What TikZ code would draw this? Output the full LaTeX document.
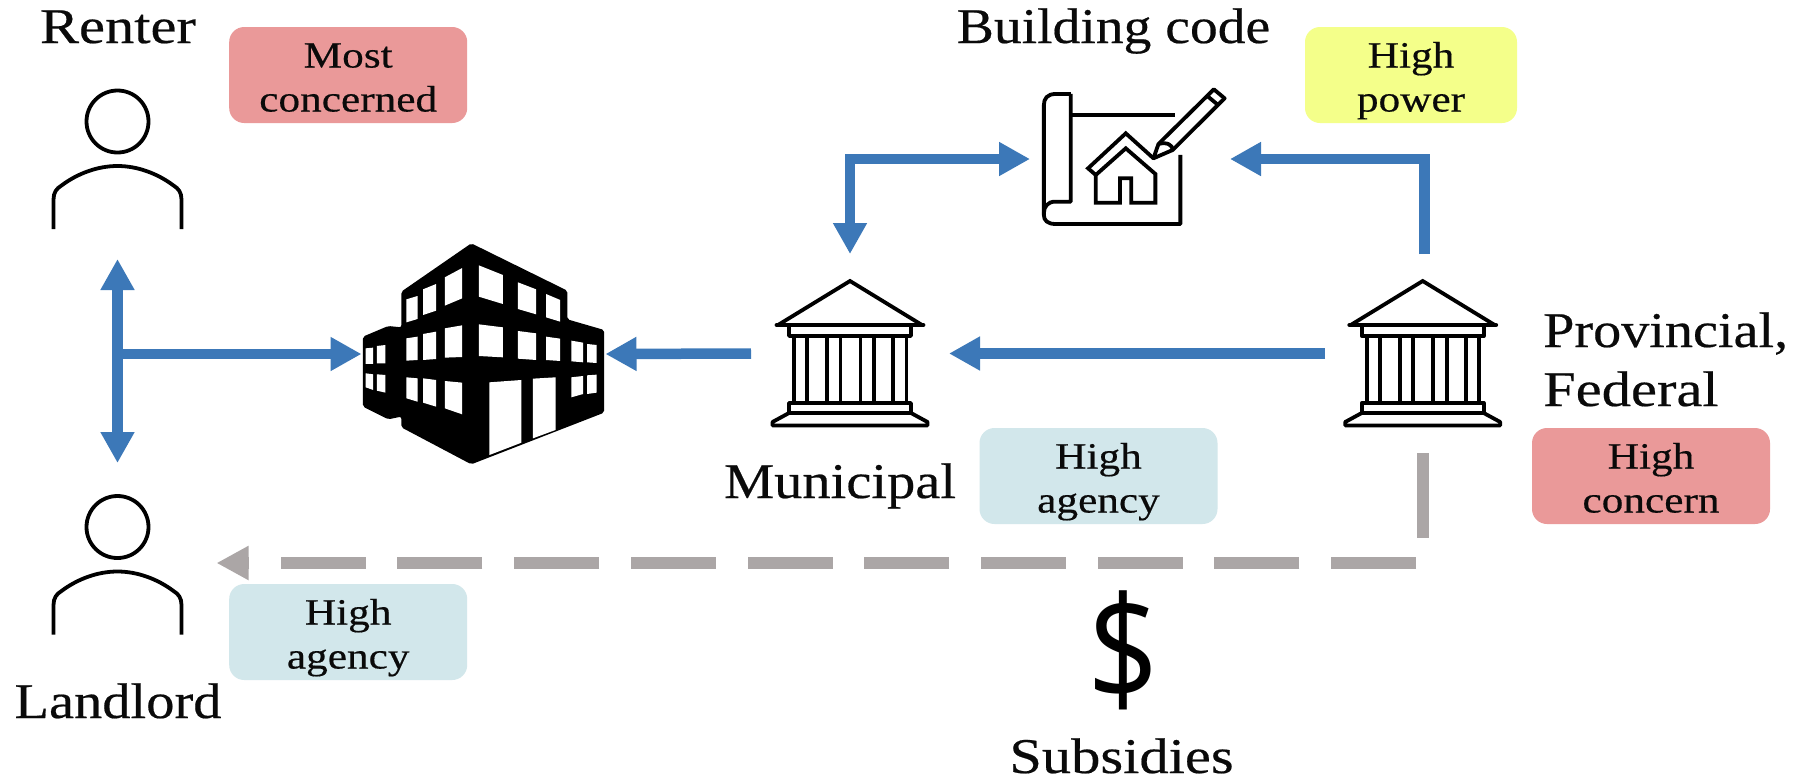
\documentclass[tikz,border=0pt]{standalone}
\usepackage{fontspec}
\setmainfont[FakeStretch=1.17,FakeBold=0.4]{Liberation Serif}
\newfontfamily\dollarfont{Open Sans}
\usetikzlibrary{arrows.meta,calc}
\definecolor{flowblue}{HTML}{3C78B8}
\definecolor{flowgray}{HTML}{ABA6A6}
\definecolor{tagred}{HTML}{EA9999}
\definecolor{tagyellow}{HTML}{F4FF8A}
\definecolor{tagblue}{HTML}{D2E7EB}
\definecolor{inkblack}{HTML}{0A0A0A}
\newcommand{\twolines}[2]{\rule{0pt}{29pt}#1\\\smash{#2}}
\tikzset{
  x=1pt,y=-1pt,
  tagbox/.style={rounded corners=15pt,minimum width=238pt,minimum height=96pt,inner sep=0pt,align=center,text=inkblack,font=\fontsize{37}{44}\selectfont},
  biglabel/.style={anchor=base west,inner sep=0pt,text=inkblack,font=\fontsize{50}{59}\selectfont},
  biglabelc/.style={anchor=base,inner sep=0pt,text=inkblack,font=\fontsize{50}{59}\selectfont},
  slot/.style={inner sep=0pt,outer sep=0pt,minimum width=#1},
  flow/.style={draw=flowblue,line width=10.5pt,line join=miter},
  flowtip/.tip={Triangle[length=31pt,width=32pt]},
  subsidy/.style={draw=flowgray,line width=12pt,dash pattern=on 85pt off 31.7pt},
  icon/.style={draw=black,line width=3.8pt,line join=round},
  person/.pic={
    \draw[icon] (0,0) circle (31);
    \draw[icon] (-64,107.5)--(-64,78) .. controls (-64,71) and (-61,67) .. (-56,64) .. controls (-40,52) and (-20,44.5) .. (0,44.5) .. controls (20,44.5) and (40,52) .. (56,64) .. controls (61,67) and (64,71) .. (64,78)--(64,107.5);
  },
  temple/.pic={
    \draw[icon,line join=miter] (-72,46)--(0,2)--(72,46);
    \draw[icon,line width=4.8pt,line cap=round] (-73,46)--(73,46);
    \draw[icon] (-61,46)--(-61,57)--(61,57)--(61,46);
    \foreach \c in {-56,-43,-23,-9.5,10.5,24,43,56.5}{\draw[icon] (\c,57)--(\c,124);}
    \draw[icon] (-61,124)--(61,124)--(61,134)--(-61,134)--cycle;
    \draw[icon] (-61,134)--(-77.5,143)--(-77.5,146.5)--(77.5,146.5)--(77.5,143)--(61,134);
  }
}
\begin{document}
\begin{tikzpicture}
\useasboundingbox (0,0) rectangle (1803,780);
\fill[white] (0,0) rectangle (1803,780);

% invisible slots the connectors run between
\node[slot=198pt,minimum height=200pt] (renter) at (117.5,159) {};
\node[slot=198pt,minimum height=200pt] (landlord) at (117.5,563) {};
\node[slot=244pt,minimum height=222pt] (building) at (483.5,354) {};
\node[slot=198pt,minimum height=199pt] (municipal) at (850,353.5) {};
\node[slot=195.4pt,minimum height=199pt] (provincial) at (1422.7,353.5) {};
\node[slot=200pt,minimum height=100pt] (blueprint) at (1130,159) {};
\coordinate (junction) at (117.5,354);

% people
\pic at (117.5,121.5) {person};
\pic at (117.5,527) {person};

% building
\begin{scope}[shift={(340,220)},x=.3954pt,y=-.3333pt]
\fill[black,rounded corners=2pt] (332,70)--(575,212)--(575,298)--(668,330)--(668,578)--(332,733)--(155,622)--(155,590)--(122,598)--(58,560)--(58,350)--(122,318)--(155,322)--(155,215)--cycle;
\foreach \w in {
 {(168,238)--(196,228)--(196,297)--(168,307)},
 {(210,208)--(243,192)--(243,272)--(210,285)},
 {(265,172)--(309,144)--(309,235)--(265,257)},
 {(351,136)--(412,165)--(412,252)--(351,230)},
 {(450,187)--(496,208)--(496,283)--(450,267)},
 {(521,222)--(557,240)--(557,305)--(521,292)},
 {(168,355)--(196,350)--(196,420)--(168,422)},
 {(210,342)--(243,335)--(243,417)--(210,420)},
 {(265,325)--(309,316)--(309,411)--(265,413)},
 {(351,313)--(412,322)--(412,412)--(351,408)},
 {(450,333)--(496,340)--(496,420)--(450,416)},
 {(521,350)--(557,356)--(557,423)--(521,420)},
 {(585,362)--(615,368)--(615,427)--(585,424)},
 {(625,372)--(649,375)--(649,429)--(625,427)},
 {(65,385)--(84,383)--(84,432)--(65,432)},
 {(93,378)--(115,375)--(115,430)--(93,430)},
 {(65,460)--(84,463)--(84,510)--(65,502)},
 {(93,463)--(115,465)--(115,518)--(93,512)},
 {(168,472)--(196,475)--(196,545)--(168,535)},
 {(210,475)--(243,480)--(243,560)--(210,548)},
 {(265,483)--(309,488)--(309,583)--(265,565)},
 {(378,487)--(459,480)--(459,668)--(378,705)},
 {(488,476)--(545,472)--(545,630)--(488,655)},
 {(585,472)--(615,468)--(615,522)--(585,532)},
 {(625,466)--(649,464)--(649,518)--(625,522)}}
 {\fill[white] \w --cycle;}
\end{scope}

% temples
\pic at (850,279) {temple};
\pic at (1422.7,279) {temple};

% blueprint with house and pencil
\begin{scope}[shift={(940,0)},x=.3846pt,y=-.3333pt]
\draw[icon] (340,282)--(300,282) .. controls (280,282) and (270,295) .. (270,315)--(270,645) .. controls (270,662) and (280,672) .. (300,672)--(625,672)--(625,465);
\draw[icon] (340,282)--(340,605)--(300,605) .. controls (280,605) and (270,620) .. (270,640);
\draw[icon] (340,345)--(612,345);
\draw[icon,line join=miter] (405,525)--(385,505)--(483,400)--(555,475);
\draw[icon,line join=miter] (405,525)--(483,445)--(560,522)--(560,608)--(497,608)--(497,535)--(468,535)--(468,608)--(405,608)--cycle;
\draw[icon] (555,475)--(568,432)--(712,268)--(740,295)--(605,450)--cycle;
\draw[icon] (568,432) .. controls (590,425) and (605,435) .. (605,450);
\draw[icon] (695,288)--(723,315);
\end{scope}

% connectors
\draw[flow,{flowtip}-{flowtip}] (renter.south) -- (landlord.north);
\draw[flow,-{flowtip}] (junction) -- (building.west);
\draw[flow,-{flowtip}] (municipal.west) -- (building.east);
\draw[flow,-{flowtip}] (provincial.west) -- (municipal.east);
\draw[flow,{flowtip}-{flowtip}] (municipal.north) |- (blueprint.west);
\draw[flow,-{flowtip}] ([xshift=2pt]provincial.north) |- (blueprint.east);
\draw[subsidy,-{Triangle[length=32pt,width=32pt]}] (provincial.south) -- (provincial.south |- landlord.east) -- (landlord.east);

% tags
\node[tagbox,fill=tagred] (tagmost) at (348.2,75) {\twolines{Most}{concerned}};
\node[tagbox,fill=tagyellow,minimum width=212pt] (tagpower) at (1411,75) {\twolines{High}{power}};
\node[tagbox,fill=tagred] (tagconcern) at (1651,476) {\twolines{High}{concern}};
\node[tagbox,fill=tagblue] (tagmuni) at (1098.5,476) {\twolines{High}{agency}};
\node[tagbox,fill=tagblue] (tagland) at (348.2,632) {\twolines{High}{agency}};

% labels
\node[biglabelc] (lrenter) at (118,43) {Renter};
\node[biglabelc] (llandlord) at (118,718) {\scalebox{.965}[1]{Landlord}};
\node[biglabelc] (lcode) at (1113.5,43) {\scalebox{.95}[1]{Building code}};
\node[biglabelc] (lmuni) at (840,498) {\scalebox{.965}[1]{Municipal}};
\node[biglabel] (lprov) at (1543,347) {\scalebox{.96}[1]{Provincial,}};
\node[biglabel] (lfed) at (1543,406) {Federal};
\node[biglabelc] (lsub) at (1121.5,773) {Subsidies};
\node[anchor=base,inner sep=0pt,text=black,font=\dollarfont\fontsize{146}{146}\selectfont] (ldollar) at (1123,701) {\scalebox{.86}[1]{\$}};
\end{tikzpicture}
\end{document}
